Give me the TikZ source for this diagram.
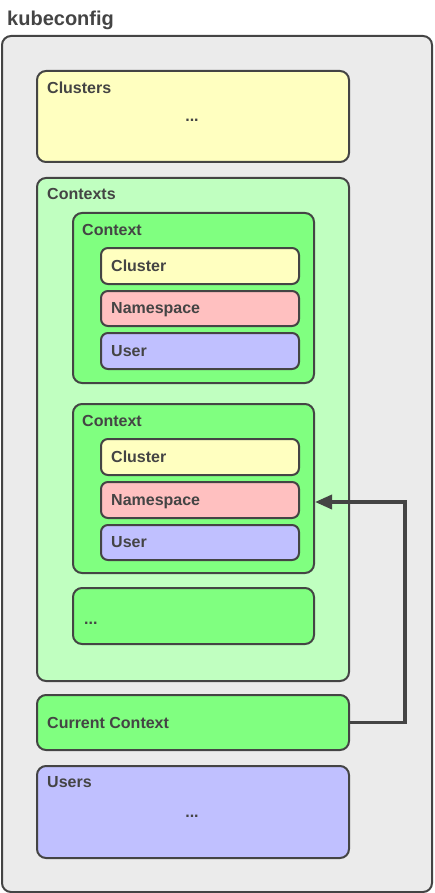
\documentclass[tikz,border=0pt]{standalone}
\usepackage{fontspec}
\setmainfont{Liberation Sans}
\usetikzlibrary{arrows.meta}
\definecolor{ink}{HTML}{444444}
\definecolor{bggray}{HTML}{EBEBEB}
\definecolor{ylw}{HTML}{FFFFC0}
\definecolor{lgreen}{HTML}{C0FFC0}
\definecolor{green}{HTML}{80FF80}
\definecolor{pink}{HTML}{FFC0C0}
\definecolor{lav}{HTML}{C0C0FF}
\tikzset{
  box/.style={draw=ink, line width=2pt, rounded corners=9pt, anchor=north west, inner sep=0pt},
  sbox/.style={draw=ink, line width=2pt, rounded corners=7pt, anchor=north west, inner sep=0pt},
  lbl/.style={anchor=west, inner sep=0pt, text height=11.5pt, text depth=0pt, text=ink, font=\fontsize{16}{18}\selectfont\bfseries},
  dots/.style={anchor=base, inner sep=0pt, text=ink, font=\fontsize{16}{18}\selectfont\bfseries},
  link/.style={draw=ink, line width=3.5pt, -{Triangle[length=17pt,width=14pt]}}
}
\begin{document}
\begin{tikzpicture}[x=1pt,y=-1pt]
\useasboundingbox (0,0) rectangle (434,893);
% outer
\node[box, fill=bggray, minimum width=430pt, minimum height=856pt] (outer) at (1,35) {};
\node[anchor=west, inner sep=0pt, text height=14pt, text depth=0pt, text=ink, font=\fontsize{20}{22}\selectfont\bfseries] (title) at (7,19) {kubeconfig};
% clusters
\node[box, fill=ylw, minimum width=312pt, minimum height=91pt] (clusters) at (36,70) {};
\node[lbl] (clustersl) at (47,88) {Clusters};
\node[dots] (clustersd) at (192,122) {...};
% contexts
\node[box, fill=lgreen, minimum width=312pt, minimum height=503pt] (contexts) at (36,177) {};
\node[lbl] (contextsl) at (47,194) {Contexts};
% context 1
\node[box, fill=green, minimum width=241pt, minimum height=170pt] (ctx1) at (72,212) {};
\node[lbl] (ctx1l) at (82,230) {Context};
\node[sbox, fill=ylw, minimum width=198pt, minimum height=36pt] (cl1) at (100,247) {};
\node[lbl] (cl1l) at (111,266) {Cluster};
\node[sbox, fill=pink, minimum width=198pt, minimum height=35pt] (ns1) at (100,290) {};
\node[lbl] (ns1l) at (111,308) {Namespace};
\node[sbox, fill=lav, minimum width=198pt, minimum height=36pt] (us1) at (100,332) {};
\node[lbl] (us1l) at (111,351) {User};
% context 2
\node[box, fill=green, minimum width=241pt, minimum height=169pt] (ctx2) at (72,403) {};
\node[lbl] (ctx2l) at (82,421) {Context};
\node[sbox, fill=ylw, minimum width=198pt, minimum height=36pt] (cl2) at (100,438) {};
\node[lbl] (cl2l) at (111,457) {Cluster};
\node[sbox, fill=pink, minimum width=198pt, minimum height=36pt] (ns2) at (100,481) {};
\node[lbl] (ns2l) at (111,500) {Namespace};
\node[sbox, fill=lav, minimum width=198pt, minimum height=35pt] (us2) at (100,524) {};
\node[lbl] (us2l) at (111,542) {User};
% more contexts
\node[box, fill=green, minimum width=241pt, minimum height=56pt] (ctx3) at (72,587) {};
\node[dots, anchor=base west] (ctx3l) at (84,624) {...};
% current context
\node[box, fill=green, minimum width=312pt, minimum height=55pt] (cur) at (36,694) {};
\node[lbl] (curl) at (47,723) {Current Context};
% users
\node[box, fill=lav, minimum width=312pt, minimum height=92pt] (users) at (36,765) {};
\node[lbl] (usersl) at (47,782) {Users};
\node[dots] (usersd) at (192,817) {...};
% arrow
\coordinate (bend) at (405,502);
\draw[link] (cur.east) -| (bend) -- (ctx2.east |- bend);
\end{tikzpicture}
\end{document}
